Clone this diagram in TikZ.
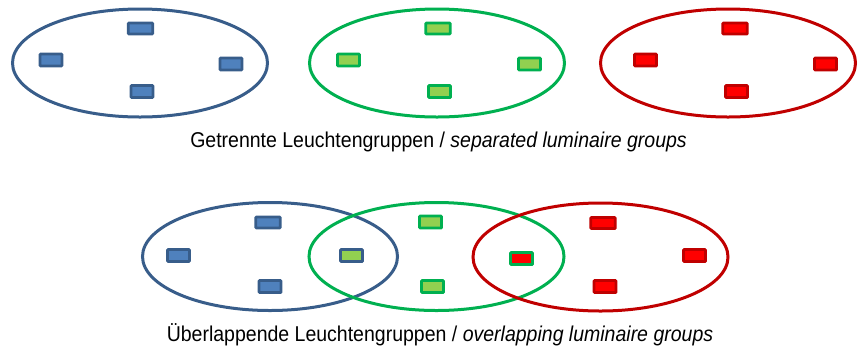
\documentclass[tikz,border=0pt]{standalone}
\usepackage{fontspec}
\usepackage{graphicx}
\setmainfont{Liberation Sans}
\usetikzlibrary{shapes.geometric}
\definecolor{bdark}{HTML}{385D8A}
\definecolor{bfill}{HTML}{4F81BD}
\definecolor{gdark}{HTML}{00B050}
\definecolor{gfill}{HTML}{92D050}
\definecolor{rdark}{HTML}{C00000}
\definecolor{rfill}{HTML}{FF0000}
\newcommand{\stretchtxt}[1]{\scalebox{1}[1.1]{#1}}
\tikzset{
  grp/.style={ellipse, draw=#1, line width=3pt, minimum width=255pt, minimum height=108pt, inner sep=0pt},
  lum/.style 2 args={rectangle, draw=#1, fill=#2, line width=2.6pt, minimum width=22pt, minimum height=12pt, inner sep=0pt, rounded corners=0.6pt},
  lumw/.style={minimum width=24.5pt, minimum height=11pt},
  captxt/.style={font=\fontsize{19.5}{23}\selectfont, inner sep=0pt}
}
\begin{document}
\begin{tikzpicture}[x=1pt,y=-1pt]
\useasboundingbox (0,0) rectangle (867,349);
% top row
\node[grp=bdark] (eb) at (140,63) {};
\node[grp=gdark] (eg) at (437,63) {};
\node[grp=rdark] (er) at (728,63) {};
\node[lum={bdark}{bfill}, lumw] (b1) at (140.5,28.5) {};
\node[lum={bdark}{bfill}] (b2) at (51,60) {};
\node[lum={bdark}{bfill}] (b3) at (231,64) {};
\node[lum={bdark}{bfill}] (b4) at (142,91.5) {};
\node[lum={gdark}{gfill}, lumw] (g1) at (438,28.5) {};
\node[lum={gdark}{gfill}] (g2) at (348.5,60) {};
\node[lum={gdark}{gfill}] (g3) at (529.5,64) {};
\node[lum={gdark}{gfill}] (g4) at (439.5,91.5) {};
\node[lum={rdark}{rfill}, lumw] (r1) at (735,28.5) {};
\node[lum={rdark}{rfill}] (r2) at (645.5,60) {};
\node[lum={rdark}{rfill}] (r3) at (825.5,64) {};
\node[lum={rdark}{rfill}] (r4) at (736.5,91.5) {};
\node[captxt] (t1) at (438.5,142) {\stretchtxt{Getrennte Leuchtengruppen / \textit{separated luminaire groups}}};
% bottom row
\node[grp=bdark] (ob) at (270,256.5) {};
\node[grp=gdark] (og) at (436.5,256.5) {};
\node[grp=rdark] (or) at (600.5,257) {};
\node[lum={bdark}{bfill}, lumw] (ob1) at (268,222.5) {};
\node[lum={bdark}{bfill}] (ob2) at (178.5,255.5) {};
\node[lum={bdark}{bfill}] (ob3) at (270,286.5) {};
\node[lum={bdark}{gfill}] (obg) at (351.5,255.5) {};
\node[lum={gdark}{gfill}] (og1) at (430.5,222) {};
\node[lum={gdark}{gfill}] (og2) at (432.5,286.5) {};
\node[lum={gdark}{rfill}] (ogr) at (521.5,258.5) {};
\node[lum={rdark}{rfill}, lumw] (or1) at (603,223) {};
\node[lum={rdark}{rfill}] (or2) at (694.5,255.5) {};
\node[lum={rdark}{rfill}] (or3) at (605,286.5) {};
\node[captxt] (t2) at (440,335) {\stretchtxt{Überlappende Leuchtengruppen / \textit{overlapping luminaire groups}}};
\end{tikzpicture}
\end{document}
